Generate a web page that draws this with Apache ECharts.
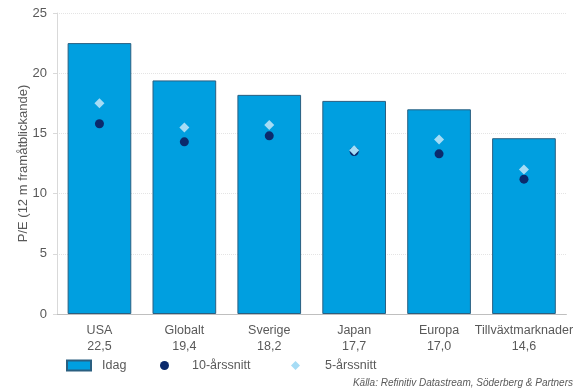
<!DOCTYPE html>
<html>
<head>
<meta charset="utf-8">
<script src="https://cdn.jsdelivr.net/npm/echarts@6/dist/echarts.min.js"></script>
<style>
  html, body { margin: 0; padding: 0; background: #fff; }
  #chart { width: 576px; height: 391px; }
</style>
</head>
<body>
<div id="chart"></div>
<script>
const categories = ['USA', 'Globalt', 'Sverige', 'Japan', 'Europa', 'Tillväxtmarknader'];
const today = [22.5, 19.4, 18.2, 17.7, 17.0, 14.6];
const avg10 = [15.8, 14.3, 14.8, 13.5, 13.3, 11.2];
const avg5 = [17.5, 15.5, 15.7, 13.6, 14.5, 12.0];
const yTicks = [0, 5, 10, 15, 20, 25];

const font = '"Liberation Sans", sans-serif';
const textColor = '#595959';

const chart = echarts.init(document.getElementById('chart'));

const fmt = v => v.toFixed(1).replace('.', ',');

const legendText = pad => ({ fontFamily: font, fontSize: 12.5, color: textColor, padding: [0, 0, 0, pad] });

const option = {
    textStyle: { fontFamily: font },
    grid: { left: 57, right: 9, top: 13, bottom: 77 },
    legend: [
        {
            left: 66, top: 359, padding: 0, itemWidth: 24, itemHeight: 10, itemGap: 0,
            data: [{ name: 'Idag', icon: 'rect' }],
            textStyle: legendText(6)
        },
        {
            left: 160, top: 359, padding: 0, itemWidth: 9, itemHeight: 9, itemGap: 0,
            data: [{ name: '10-årssnitt', icon: 'circle' }],
            textStyle: legendText(18)
        },
        {
            left: 291, top: 359, padding: 0, itemWidth: 9, itemHeight: 9, itemGap: 0,
            data: [{ name: '5-årssnitt', icon: 'diamond' }],
            textStyle: legendText(20)
        }
    ],
    xAxis: {
        type: 'category',
        data: categories,
        axisLine: { lineStyle: { color: '#bfbfbf' } },
        axisTick: { alignWithLabel: true, length: 4, lineStyle: { color: '#bfbfbf' } },
        axisLabel: {
            interval: 0,
            margin: 9,
            fontFamily: font,
            fontSize: 12.5,
            lineHeight: 16,
            color: textColor,
            formatter: (v, i) => v + '\n' + fmt(today[i])
        }
    },
    yAxis: {
        type: 'value',
        min: yTicks[0],
        max: yTicks[yTicks.length - 1],
        interval: 5,
        name: 'P/E (12 m framåtblickande)',
        nameLocation: 'middle',
        nameGap: 27,
        nameMoveOverlap: false,
        nameTextStyle: { fontFamily: font, fontSize: 13, color: textColor },
        axisLine: { show: true, lineStyle: { color: '#d9d9d9' } },
        axisTick: { show: true, length: 4, lineStyle: { color: '#d9d9d9' } },
        axisLabel: { fontFamily: font, fontSize: 13, color: textColor, margin: 10 },
        splitLine: { lineStyle: { color: '#e4e4e4', type: 'dotted' } }
    },
    series: [
        {
            name: 'Idag',
            type: 'bar',
            data: today,
            barCategoryGap: '25%',
            itemStyle: { color: '#009fe0', borderColor: '#2a5f80', borderWidth: 1 }
        },
        {
            name: '10-årssnitt',
            type: 'scatter',
            data: avg10,
            symbol: 'circle',
            symbolSize: 9,
            itemStyle: { color: '#0b2a6c', opacity: 1 }
        },
        {
            name: '5-årssnitt',
            type: 'scatter',
            data: avg5,
            symbol: 'diamond',
            symbolSize: 10,
            itemStyle: { color: '#a6dcf5', opacity: 1 }
        }
    ],
    graphic: [{
        type: 'text',
        right: 3,
        top: 378,
        style: {
            text: 'Källa: Refinitiv Datastream, Söderberg & Partners',
            fontFamily: font,
            fontStyle: 'italic',
            fontSize: 10,
            fill: textColor
        }
    }]
};

chart.setOption(option);

window.addEventListener('resize', () => {
    chart.resize();
});
</script>
</body>
</html>
